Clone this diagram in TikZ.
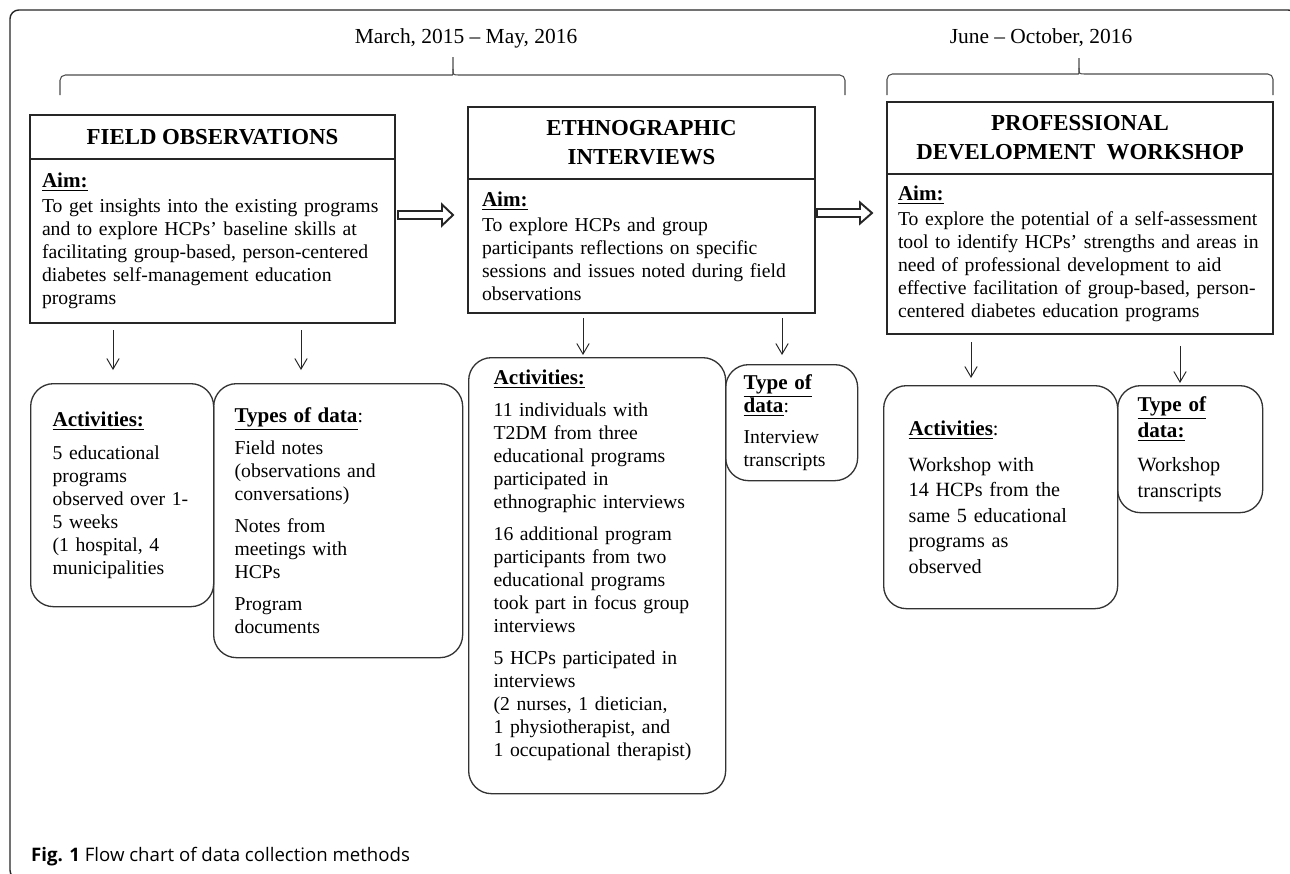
\documentclass[tikz,border=0pt]{standalone}
\usepackage{fontspec}
\setmainfont{Liberation Serif}
\newfontfamily\captionfont{Open Sans}
\usetikzlibrary{arrows.meta}
\usetikzlibrary{
    positioning, % Aim boxes hang below their titles.
    calc         % Offsets for the hollow arrows.
}

% One pixel of the original layout.
\newlength\pxl
\setlength\pxl{0.02cm}

\newcommand\bodysize{\fontsize{11.2}{13.1}\selectfont}
\newcommand\widesize{\fontsize{11.5}{14.5}\selectfont}
\newcommand\titlesize{\fontsize{13}{16.5}\selectfont}
\newcommand\boxhead[1]{{\fontsize{12}{13.1}\selectfont\bfseries\underline{#1}}}

\tikzset{
    stage/.style={draw = black!85, line width = 0.8pt, anchor = north west,
        align = center, inner sep = 0pt, outer sep = 0pt, font = \titlesize\bfseries},
    aimbox/.style={draw = black!85, line width = 0.8pt, align = left,
        inner ysep = 0pt, outer sep = 0pt, font = \bodysize},
    roundbox/.style={draw = black!80, line width = 0.75pt, rounded corners = 13pt,
        anchor = north west, align = left, inner ysep = 0pt, font = \bodysize},
    down/.style={draw = black!85, line width = 0.55pt,
        -{Straight Barb[length=6pt,width=7pt]}},
    hollow/.style={draw = black!85, line width = 1.1pt, line join = miter},
    bracket/.style={draw = black!70, line width = 0.6pt}
}

\begin{document}
\begin{tikzpicture}[x=0.02cm, y=-0.02cm]

        % Page size of the figure, and its frame.
        \useasboundingbox (0,0) rectangle (1290,873);
        \clip (0,0) rectangle (1290,873);
        \draw[draw = black!85, line width = 0.8pt, rounded corners = 5pt]
            (10,10) rectangle (1297,879);

        % Time spans over the phases.
        \node[font = \fontsize{12.2}{14}\selectfont] (D1) at (466,38) {March, 2015 -- May, 2016};
        \node[font = \fontsize{12.2}{14}\selectfont] (D2) at (1041,38) {June -- October, 2016};

        % Brackets below the time spans.
        \draw[bracket] (60,95) [rounded corners = 3pt] -- (60,75) -- (447,75)
            [sharp corners] .. controls (453,75) .. (453,69) -- (453,57);
        \draw[bracket] (453,69) .. controls (453,75) .. (459,75)
            [rounded corners = 3pt] -- (845,75) -- (845,95);
        \draw[bracket] (887,95) [rounded corners = 3pt] -- (887,74) -- (1073,74)
            [sharp corners] .. controls (1079,74) .. (1079,68) -- (1079,58);
        \draw[bracket] (1079,68) .. controls (1079,74) .. (1085,74)
            [rounded corners = 3pt] -- (1273,74) -- (1273,95);

        % Phase one: field observations.
        \node[stage, minimum width = 365\pxl, minimum height = 44\pxl] (FO) at (30,115)
            {FIELD OBSERVATIONS};
        \node[aimbox, below = 0pt of FO, minimum width = 365\pxl, minimum height = 164\pxl,
              inner xsep = 12\pxl, text width = 341\pxl] (FOaim) {%
            \boxhead{Aim:}\\[1pt]
            To get insights into the existing programs\\
            and to explore HCPs' baseline skills at\\
            facilitating group-based, person-centered\\
            diabetes self-management education\\
            programs};

        % Phase two: ethnographic interviews.
        \node[stage, minimum width = 347\pxl, minimum height = 72\pxl] (EI) at (468,107)
            {ETHNOGRAPHIC\\INTERVIEWS};
        \node[aimbox, below = 0pt of EI, minimum width = 347\pxl, minimum height = 134\pxl,
              inner xsep = 14\pxl, text width = 319\pxl] (EIaim) {%
            \boxhead{Aim:}\\[1pt]
            To explore HCPs and group\\
            participants reflections on specific\\
            sessions and issues noted during field\\
            observations};

        % Phase three: professional development workshop.
        \node[stage, minimum width = 386\pxl, minimum height = 72\pxl] (PD) at (887,102)
            {PROFESSIONAL\\DEVELOPMENT\ \ WORKSHOP};
        \node[aimbox, below = 0pt of PD, minimum width = 386\pxl, minimum height = 160\pxl,
              inner xsep = 11\pxl, text width = 364\pxl] (PDaim) {%
            \boxhead{Aim:}\\[1pt]
            To explore the potential of a self-assessment\\
            tool to identify HCPs' strengths and areas in\\
            need of professional development to aid\\
            effective facilitation of group-based, person-\\
            centered diabetes education programs};

        % Hollow arrows between the phases.
        \draw[hollow] ($(FOaim.east |- 0,215)+(3,-4)$) -- ++(44,0) -- ++(0,-6.5)
            -- ++(11,10.5) -- ++(-11,10.5) -- ++(0,-6.5) -- ++(-44,0) -- cycle;
        \draw[hollow] ($(EIaim.east |- 0,213)+(2,-4)$) -- ++(43,0) -- ++(0,-6.5)
            -- ++(12,10.5) -- ++(-12,10.5) -- ++(0,-6.5) -- ++(-43,0) -- cycle;

        % Activities and data of phase one.
        \node[roundbox, minimum width = 183\pxl, minimum height = 223\pxl,
              inner xsep = 22\pxl, text width = 139\pxl] (FOact) at (30,383) {%
            \boxhead{Activities:}\\[10\pxl]
            5 educational\\
            programs\\
            observed over 1-\\
            5 weeks\\
            (1 hospital, 4\\
            municipalities};
        \node[roundbox, minimum width = 249\pxl, minimum height = 274\pxl,
              inner xsep = 21\pxl, text width = 207\pxl] (FOdata) at (213,383) {%
            \boxhead{Types of data}:\\[9\pxl]
            Field notes\\
            (observations and\\
            conversations)\\[9\pxl]
            Notes from\\
            meetings with\\
            HCPs\\[9\pxl]
            Program\\
            documents};

        % Activities and data of phase two.
        \node[roundbox, minimum width = 257\pxl, minimum height = 436\pxl,
              inner xsep = 25\pxl, text width = 207\pxl] (EIact) at (468,357) {%
            \boxhead{Activities:}\\[9\pxl]
            11 individuals with\\
            T2DM from three\\
            educational programs\\
            participated in\\
            ethnographic interviews\\[9\pxl]
            16 additional program\\
            participants from two\\
            educational programs\\
            took part in focus group\\
            interviews\\[9\pxl]
            5 HCPs participated in\\
            interviews\\
            (2 nurses, 1 dietician,\\
            1 physiotherapist, and\\
            1 occupational therapist)\\[2\pxl]
            \mbox{}};
        \node[roundbox, minimum width = 132\pxl, minimum height = 116\pxl,
              inner xsep = 18\pxl, text width = 96\pxl] (EIdata) at (725,364) {%
            \boxhead{Type of}\\
            \boxhead{data}:\\[8\pxl]
            Interview\\
            transcripts};

        % Activities and data of phase three.
        \node[roundbox, font = \widesize, minimum width = 234\pxl, minimum height = 223\pxl,
              inner xsep = 25\pxl, text width = 184\pxl] (PDact) at (883,385) {%
            \boxhead{Activities}:\\[10\pxl]
            Workshop with\\
            14 HCPs from the\\
            same 5 educational\\
            programs as\\
            observed};
        \node[roundbox, font = \widesize, minimum width = 145\pxl, minimum height = 127\pxl,
              inner xsep = 20\pxl, text width = 105\pxl] (PDdata) at (1117,385) {%
            \boxhead{Type of}\\
            \boxhead{data:}\\[9\pxl]
            Workshop\\
            transcripts};

        % Arrows from each aim down to its boxes.
        \draw[down, shorten <= 7\pxl, shorten >= 13\pxl] (113,0 |- FOaim.south) -- (113,0 |- FOact.north);
        \draw[down, shorten <= 7\pxl, shorten >= 13\pxl] (301,0 |- FOaim.south) -- (301,0 |- FOdata.north);
        \draw[down, shorten <= 5\pxl, shorten >= 2\pxl] (583,0 |- EIaim.south) -- (583,0 |- EIact.north);
        \draw[down, shorten <= 5\pxl, shorten >= 9\pxl] (782,0 |- EIaim.south) -- (782,0 |- EIdata.north);
        \draw[down, shorten <= 8\pxl, shorten >= 7\pxl] (971,0 |- PDaim.south) -- (971,0 |- PDact.north);
        \draw[down, shorten <= 12\pxl, shorten >= 2\pxl] (1180,0 |- PDaim.south) -- (1180,0 |- PDdata.north);

        % Caption of the figure.
        \node[anchor = west, font = \captionfont\fontsize{10.6}{12}\selectfont] (CAP) at (25,857)
            {\textbf{Fig. 1} Flow chart of data collection methods};
    \end{tikzpicture}
\end{document}
